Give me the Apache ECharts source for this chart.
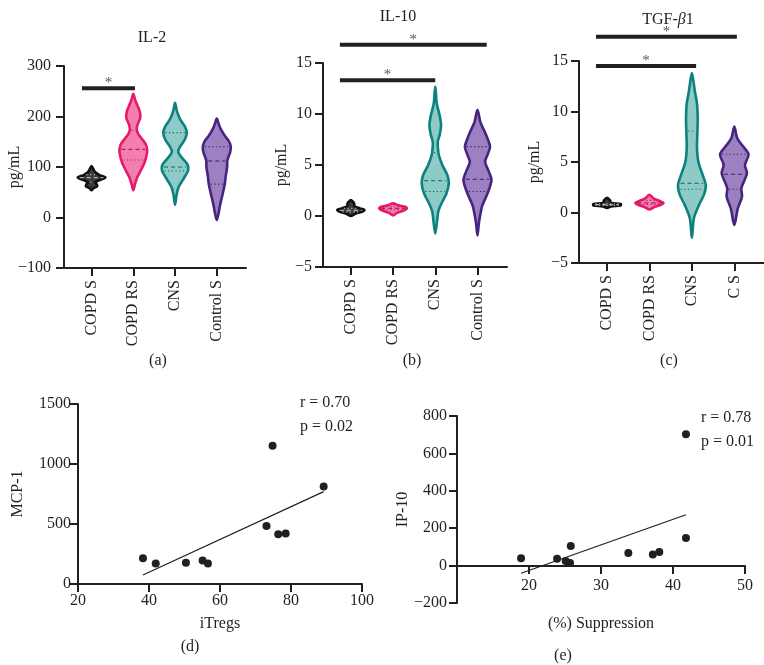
<!DOCTYPE html>
<html><head><meta charset="utf-8">
<script src="https://cdn.jsdelivr.net/npm/echarts@6/dist/echarts.min.js"></script>
<style>html,body{margin:0;padding:0;background:#fff}#c{width:764px;height:665px}</style>
</head><body><div id="c"></div>
<script>
// ---------- DATA ----------
const catsA = ['COPD S','COPD RS','CNS','Control S'];
const catsB = ['COPD S','COPD RS','CNS','Control S'];
const catsC = ['COPD S','COPD RS','CNS','C S'];

// violin profiles: [value, relative density (half-width, 0..1)]
const il2_copdS   = [[54,0],[58,.14],[62,.41],[66,.36],[70,.25],[74,.57],[79,.99],[84,.57],[89,.29],[95,.14],[102,0]];
const il2_copdRS  = [[54,0],[65,.11],[80,.29],[95,.57],[110,.82],[125,.96],[135,.99],[145,.89],[155,.64],[165,.36],[175,.24],[185,.32],[198,.5],[210,.46],[222,.29],[235,.11],[245,0]];
const il2_cns     = [[25,0],[45,.11],[60,.25],[75,.57],[90,.89],[97,.95],[105,.89],[118,.5],[128,.25],[133,.24],[140,.36],[155,.71],[168,.84],[180,.71],[195,.36],[210,.14],[227,0]];
const il2_ctrl    = [[-5,0],[10,.14],[21,.21],[35,.32],[48,.43],[66,.57],[80,.63],[100,.74],[112,.75],[120,.84],[130,.96],[140,1],[150,.89],[162,.57],[175,.29],[185,.14],[196,0]];
const il2_quart   = [[70,79,85],[114,135,173],[92,100,168],[66,112,140]]; // q1, median, q3

const il10_copdS  = [[0,0],[.2,.29],[.45,.86],[.6,.96],[.75,.64],[.95,.25],[1.2,.24],[1.4,.14],[1.57,0]];
const il10_copdRS = [[.05,0],[.3,.29],[.6,.86],[.75,.98],[.9,.86],[1.05,.36],[1.24,0]];
const il10_cns    = [[-1.7,0],[-.7,.11],[.4,.21],[1.2,.43],[2.2,.79],[3.2,.96],[4.0,.86],[5.0,.5],[6.0,.25],[6.8,.18],[7.3,.18],[8.0,.32],[8.9,.41],[9.8,.32],[11.0,.11],[12.7,0]];
const il10_ctrl   = [[-1.9,0],[-.6,.11],[.5,.25],[1.1,.36],[2.2,.71],[3.5,.99],[4.4,.79],[5.3,.54],[6.0,.71],[6.8,.89],[7.6,.71],[8.3,.5],[9.2,.21],[10.4,0]];
const il10_quart  = [[.4,.55,.75],[.6,.75,.9],[2.4,3.46,6.2],[2.4,3.6,6.8]];

const tgf_copdS   = [[.45,0],[.6,.29],[.7,.96],[.85,.96],[.95,.29],[1.2,.21],[1.45,0]];
const tgf_copdRS  = [[.3,0],[.5,.29],[.75,.79],[.95,.99],[1.15,.71],[1.4,.29],[1.75,0]];
const tgf_cns     = [[-2.5,0],[-.6,.14],[.74,.5],[1.8,.86],[2.7,.98],[3.6,.79],[5.0,.46],[6.4,.36],[8.0,.39],[9.5,.41],[10.8,.36],[12,.21],[13,.11],[13.8,0]];
const tgf_cs      = [[-1.24,0],[.42,.25],[1.56,.54],[2.4,.5],[3.9,.89],[4.7,.75],[5.76,1],[6.5,.64],[7.35,.21],[8.5,0]];
const tgf_quart   = [[.7,.78,.85],[.8,.95,1.2],[2.3,2.9,8.07],[2.3,3.78,5.76]];

// significance bars: [from category, to category, height]
const sigA = [[-0.23,1.04,256]];
const sigB = [[-0.26,3.22,16.8],[-0.26,2.0,13.3]];
const sigC = [[-0.26,3.06,17.4],[-0.26,2.1,14.5]];

// scatter (d)
const dX = [38.3,41.9,50.4,55.1,56.6,73.1,74.8,76.4,78.5,89.2];
const dY = [214,170,178,195,170,484,1152,415,420,813];
const dFitX = [38.3,89.2];
const dFitY = [75,770];
// scatter (e)
const eX = [18.9,23.9,25.1,25.7,25.8,33.8,37.2,38.1,41.8,41.8];
const eY = [39,36,25,14,105,68,59,73,702,148];
const eFitX = [18.9,41.8];
const eFitY = [-41,272];

// ---------- STYLE ----------
const FONT = '"Liberation Serif","Times New Roman",serif';
const INK = '#231f20';
const HW = 0.335;
const COLORS = [
  {stroke:'#111111', fill:'#3a3a3a', line:'#b0b0b0'},
  {stroke:'#E8196A', fill:'#F27FAE', line:'#B8145A'},
  {stroke:'#0C827F', fill:'#8FCBC6', line:'#0A6663'},
  {stroke:'#45257E', fill:'#9C80C2', line:'#36206A'}
];

function widthAt(prof, v){
  for (let k=0;k<prof.length-1;k++){
    const a=prof[k], b=prof[k+1];
    if (v>=a[0] && v<=b[0]) { const t=(v-a[0])/(b[0]-a[0]||1); return a[1]+(b[1]-a[1])*t; }
  }
  return 0;
}

function violinSeries(g, profiles, quart){
  return {
    type:'custom', xAxisIndex:g, yAxisIndex:g, clip:false, silent:true,
    data: profiles.map((p,i)=>[i, quart[i][1]]),
    encode:{x:0,y:1},
    renderItem(params, api){
      const i = api.value(0);
      const prof = profiles[i];
      const pts = [];
      for (const [v,w] of prof) pts.push(api.coord([i + w*HW, v]));
      for (let k=prof.length-2;k>=1;k--){ const [v,w]=prof[k]; pts.push(api.coord([i - w*HW, v])); }
      const c = COLORS[i];
      const children = [{type:'polygon', shape:{points:pts, smooth:0.3}, style:{fill:c.fill, stroke:c.stroke, lineWidth:2.6, lineJoin:'round'}}];
      quart[i].forEach((q,k)=>{
        const w = widthAt(prof,q)*HW;
        const a = api.coord([i-w,q]), b = api.coord([i+w,q]);
        children.push({type:'line', shape:{x1:a[0]+2,y1:a[1],x2:b[0]-2,y2:b[1]},
          style:{stroke:c.line, lineWidth:1.1, lineDash: k===1?[4,3]:[1.2,2.5]}});
      });
      return {type:'group', children};
    }
  };
}

function sigSeries(g, bars){
  return {
    type:'custom', xAxisIndex:g, yAxisIndex:g, clip:false, silent:true,
    data: bars, encode:{x:[0,1], y:2},
    renderItem(params, api){
      const p0 = api.coord([api.value(0), api.value(2)]);
      const p1 = api.coord([api.value(1), api.value(2)]);
      return {type:'group', children:[
        {type:'line', shape:{x1:p0[0],y1:p0[1],x2:p1[0],y2:p0[1]}, style:{stroke:INK, lineWidth:4}},
        {type:'text', x:(p0[0]+p1[0])/2, y:p0[1]-5, style:{text:'*', fill:'#555', font:'15px '+FONT, align:'center', verticalAlign:'middle'}}
      ]};
    }
  };
}

const minusFmt = v => String(v).replace('-', '\u2212');
const lineSt = {color:INK, width:2};
const labelSt = {fontFamily:FONT, fontSize:16, color:INK};

function catX(g, cats){
  return {type:'value', gridIndex:g, min:-0.66, max:3.7,
    axisLine:{show:true, onZero:false, lineStyle:lineSt},
    axisTick:{show:true, customValues:[0,1,2,3], length:8, lineStyle:lineSt},
    axisLabel:Object.assign({customValues:[0,1,2,3], rotate:90, margin:12, formatter:v=>cats[Math.round(v)]}, labelSt),
    splitLine:{show:false}};
}
function valY(g, min, max, interval, name, gap, margin){
  return {type:'value', gridIndex:g, min, max, interval,
    name, nameLocation:'middle', nameGap:gap, nameMoveOverlap:false,
    nameTextStyle:{fontFamily:FONT, fontSize:16, color:INK},
    axisLine:{show:true, onZero:false, lineStyle:lineSt},
    axisTick:{show:true, length:8, lineStyle:lineSt},
    axisLabel:Object.assign({margin, formatter:minusFmt}, labelSt),
    splitLine:{show:false}};
}

const option = {
  animation:false,
  backgroundColor:'#fff',
  textStyle:{fontFamily:FONT},
  grid:[
    {left:64, top:66, width:182, height:202},
    {left:323, top:63, width:184, height:204},
    {left:579, top:61, width:185, height:202},
    {left:78, top:404, width:284, height:180},
    {left:457, top:416, width:288, height:187}
  ],
  xAxis:[
    catX(0, catsA), catX(1, catsB), catX(2, catsC),
    {type:'value', gridIndex:3, min:20, max:100, interval:20,
      name:'iTregs', nameLocation:'middle', nameGap:32, nameMoveOverlap:false, nameTextStyle:{fontFamily:FONT, fontSize:16, color:INK},
      axisLine:{show:true, lineStyle:lineSt}, axisTick:{show:true, length:8, lineStyle:lineSt},
      axisLabel:Object.assign({margin:9}, labelSt), splitLine:{show:false}},
    {type:'value', gridIndex:4, min:10, max:50, offset:-37,
      name:'(%) Suppression', nameLocation:'middle', nameGap:50, nameMoveOverlap:false, nameTextStyle:{fontFamily:FONT, fontSize:16, color:INK},
      axisLine:{show:true, onZero:false, lineStyle:lineSt},
      axisTick:{show:true, customValues:[20,30,40,50], length:8, lineStyle:lineSt},
      axisLabel:Object.assign({customValues:[20,30,40,50], margin:12}, labelSt), splitLine:{show:false}}
  ],
  yAxis:[
    valY(0,-100,300,100,'pg/mL',41,13),
    valY(1,-5,15,5,'pg/mL',33,11),
    valY(2,-5,15,5,'pg/mL',36,11),
    valY(3,0,1500,500,'MCP-1',52,7),
    valY(4,-200,800,200,'IP-10',46,10)
  ],
  series:[
    violinSeries(0, [il2_copdS, il2_copdRS, il2_cns, il2_ctrl], il2_quart),
    violinSeries(1, [il10_copdS, il10_copdRS, il10_cns, il10_ctrl], il10_quart),
    violinSeries(2, [tgf_copdS, tgf_copdRS, tgf_cns, tgf_cs], tgf_quart),
    sigSeries(0, sigA), sigSeries(1, sigB), sigSeries(2, sigC),
    {type:'scatter', xAxisIndex:3, yAxisIndex:3, symbolSize:8, itemStyle:{color:INK, opacity:1}, data:dX.map((x,i)=>[x,dY[i]])},
    {type:'line', xAxisIndex:3, yAxisIndex:3, showSymbol:false, lineStyle:{color:INK, width:1.2}, data:dFitX.map((x,i)=>[x,dFitY[i]])},
    {type:'scatter', xAxisIndex:4, yAxisIndex:4, symbolSize:8, itemStyle:{color:INK, opacity:1}, data:eX.map((x,i)=>[x,eY[i]])},
    {type:'line', xAxisIndex:4, yAxisIndex:4, showSymbol:false, lineStyle:{color:INK, width:1.2}, data:eFitX.map((x,i)=>[x,eFitY[i]])}
  ],
  graphic:[
    {type:'text', x:152, y:38, style:{text:'IL-2', font:'16px '+FONT, fill:INK, align:'center', verticalAlign:'middle'}},
    {type:'text', x:398, y:17, style:{text:'IL-10', font:'16px '+FONT, fill:INK, align:'center', verticalAlign:'middle'}},
    {type:'text', x:668, y:20, style:{text:'{n|TGF-}{i|β}{n|1}', align:'center', verticalAlign:'middle',
      rich:{n:{font:'16px '+FONT, fill:INK}, i:{font:'italic 16px '+FONT, fill:INK}}}},
    {type:'text', x:158, y:361, style:{text:'(a)', font:'16px '+FONT, fill:INK, align:'center', verticalAlign:'middle'}},
    {type:'text', x:412, y:361, style:{text:'(b)', font:'16px '+FONT, fill:INK, align:'center', verticalAlign:'middle'}},
    {type:'text', x:669, y:361, style:{text:'(c)', font:'16px '+FONT, fill:INK, align:'center', verticalAlign:'middle'}},
    {type:'text', x:190, y:647, style:{text:'(d)', font:'16px '+FONT, fill:INK, align:'center', verticalAlign:'middle'}},
    {type:'text', x:563, y:656, style:{text:'(e)', font:'16px '+FONT, fill:INK, align:'center', verticalAlign:'middle'}},
    {type:'text', x:300, y:403, style:{text:'r = 0.70', font:'16px '+FONT, fill:INK, align:'left', verticalAlign:'middle'}},
    {type:'text', x:300, y:427, style:{text:'p = 0.02', font:'16px '+FONT, fill:INK, align:'left', verticalAlign:'middle'}},
    {type:'text', x:701, y:418, style:{text:'r = 0.78', font:'16px '+FONT, fill:INK, align:'left', verticalAlign:'middle'}},
    {type:'text', x:701, y:442, style:{text:'p = 0.01', font:'16px '+FONT, fill:INK, align:'left', verticalAlign:'middle'}}
  ]
};
const chart = echarts.init(document.getElementById('c'), null, {renderer:'canvas'});
chart.setOption(option);
</script>
</body></html>
